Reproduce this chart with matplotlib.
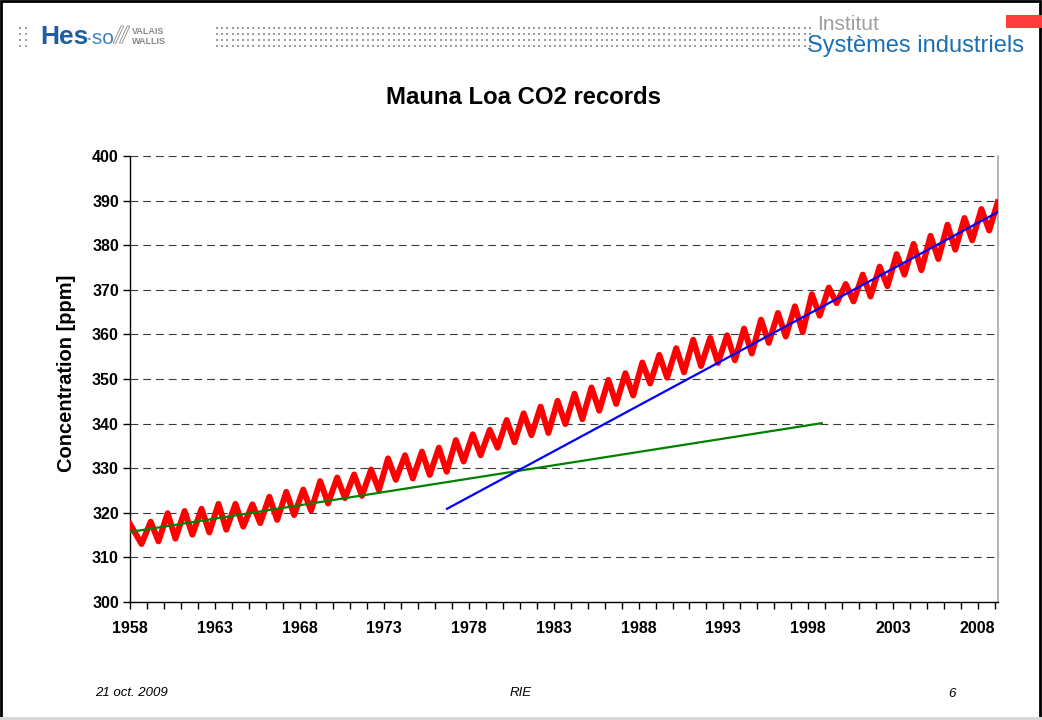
import numpy as np
import matplotlib
matplotlib.use("Agg")
import matplotlib.pyplot as plt
import matplotlib.patheffects as pe
from matplotlib.patches import Rectangle

plt.rcParams.update({
    "font.family": ["Liberation Sans", "DejaVu Sans"],
    "font.size": 11,
    "axes.unicode_minus": False
})

# seasonal maximum (spring) and minimum (autumn), ppm
years = list(range(1958, 2009))
peaks = [317.5, 318.0, 319.9, 320.4, 320.9, 322.0, 322.0, 321.9, 323.6, 324.7,
         325.2, 327.1, 327.9, 328.6, 329.7, 332.2, 332.9, 333.7, 334.6, 336.3,
         337.6, 338.6, 340.8, 342.3, 343.8, 345.1, 346.7, 348.1, 349.8, 351.3,
         353.7, 355.4, 356.9, 358.8, 359.2, 359.8, 361.3, 363.3, 364.8, 366.3,
         369.0, 370.5, 371.3, 373.4, 375.2, 378.0, 380.3, 382.1, 384.6, 386.1,
         388.1]
troughs = [313.0, 313.6, 314.2, 315.1, 315.6, 316.2, 316.9, 317.7, 318.4, 319.5,
           320.5, 322.1, 323.3, 323.8, 325.1, 327.4, 327.7, 328.5, 329.2, 331.5,
           332.9, 334.6, 335.8, 337.4, 337.9, 339.9, 341.0, 342.9, 344.4, 346.3,
           349.0, 350.3, 351.5, 352.9, 353.6, 354.2, 355.7, 358.1, 359.5, 360.5,
           364.2, 367.0, 367.4, 368.5, 370.8, 373.4, 374.4, 376.9, 379.0, 381.1,
           383.3]
last_year, last_value = 2009.18, 389.6

# trend lines: (year, ppm) end points
green_x = [1958.0, 1998.8]
green_y = [315.7, 340.1]
blue_x = [1976.7, 2009.18]
blue_y = [320.9, 387.4]

xtick_years = list(range(1958, 2010))
xlabel_years = list(range(1958, 2009, 5))


def px(x, y):
    # slide pixel -> figure fraction
    return x / 1042, 1 - y / 720


def main():
    fig = plt.figure(figsize=(10.42, 7.2), dpi=100)

    # slide frame
    fig.patches.append(Rectangle((0.001, 0.003), 0.997, 0.995, transform=fig.transFigure,
                                 fill=False, edgecolor="black", linewidth=2.0))
    fig.patches.append(Rectangle((0.0, 0.0), 1.0, 0.004, transform=fig.transFigure,
                                 facecolor="#d8d8d8", edgecolor="none"))

    # header logo dots
    dy = np.array([27.5, 33.5, 39.5, 45.5])
    gx, gy = np.meshgrid(np.arange(217, 814, 5.2), dy)
    lx, ly = np.meshgrid([20, 25.5], dy)
    for xx, yy in [(gx, gy), (lx, ly)]:
        fig.add_artist(plt.Line2D(xx.ravel() / 1042, 1 - yy.ravel() / 720,
                                  transform=fig.transFigure, linestyle="none", marker="s",
                                  markersize=2.0, color="#9c9c9c", markeredgewidth=0))

    fig.text(*px(40, 37), "Hes", fontsize=19, fontweight="bold", color="#1f5f9f",
             va="center", ha="left")
    fig.text(*px(86, 38), "·so", fontsize=15, color="#3f84c4", va="center", ha="left")
    fig.text(*px(115, 37), "//", fontsize=16, color="white", va="center", ha="left",
             fontstyle="italic",
             path_effects=[pe.withStroke(linewidth=1.2, foreground="#888888")])
    fig.text(*px(132, 32), "VALAIS", fontsize=6.5, color="#8a8a8a", va="center", ha="left",
             fontweight="bold")
    fig.text(*px(132, 42), "WALLIS", fontsize=6.5, color="#8a8a8a", va="center", ha="left",
             fontweight="bold")

    fig.text(*px(817, 25), "Institut", fontsize=15, color="#a39d9d", va="center", ha="left")
    fig.text(*px(807, 46), "Systèmes industriels", fontsize=17, color="#1c6fb0",
             va="center", ha="left")
    fig.patches.append(Rectangle(px(1006, 28), 36 / 1042, 13 / 720,
                                 transform=fig.transFigure, facecolor="#ff3b3b", edgecolor="none"))

    fig.text(*px(523, 98), "Mauna Loa CO2 records", fontsize=17.2, fontweight="bold",
             ha="center", va="center")

    # chart
    ax = fig.add_axes([130 / 1042, 1 - 602 / 720, 868 / 1042, 446 / 720])

    t = []
    v = []
    for i, yr in enumerate(years):
        t.append(yr + (0.0 if i == 0 else 0.22))
        v.append(peaks[i])
        t.append(yr + 0.68)
        v.append(troughs[i])
    t.append(last_year)
    v.append(last_value)

    ax.plot(t, v, color="#ff0000", linewidth=4.3, solid_joinstyle="round", zorder=3)
    ax.plot(green_x, green_y, color="#008000", linewidth=1.6, zorder=4)
    ax.plot(blue_x, blue_y, color="#0000ff", linewidth=1.6, zorder=4)

    ax.set_xlim(1958, 2009.2)
    ax.set_ylim(300, 400)
    ax.set_yticks(range(300, 401, 10))
    ax.set_xticks(xtick_years)
    ax.set_xticklabels([str(y) if y in xlabel_years else "" for y in xtick_years])
    ax.yaxis.grid(True, color="#3a3a3a", linestyle=(0, (7, 4.5)), linewidth=0.8)
    ax.set_axisbelow(True)

    ax.tick_params(direction="out", length=5, width=1, labelsize=11.5, pad=3)
    ax.tick_params(axis="x", pad=9)
    for lab in ax.get_xticklabels() + ax.get_yticklabels():
        lab.set_fontweight("bold")

    ax.spines["top"].set_visible(False)
    ax.spines["right"].set_color("#a8a8a8")
    ax.spines["right"].set_linewidth(1.2)
    for side in ["left", "bottom"]:
        ax.spines[side].set_color("black")
        ax.spines[side].set_linewidth(1.0)

    ax.set_ylabel("Concentration [ppm]", fontsize=14.5, fontweight="bold")
    ax.yaxis.set_label_coords(-0.062, 0.512)

    # footer
    fig.text(*px(95, 693), "21 oct. 2009", fontsize=9.5, fontstyle="italic", va="center")
    fig.text(*px(521, 693), "RIE", fontsize=9.5, fontstyle="italic", va="center", ha="center")
    fig.text(*px(952, 694), "6", fontsize=9.5, fontstyle="italic", va="center", ha="center")

    fig.savefig("out.png", dpi=100)


if __name__ == "__main__":
    main()
